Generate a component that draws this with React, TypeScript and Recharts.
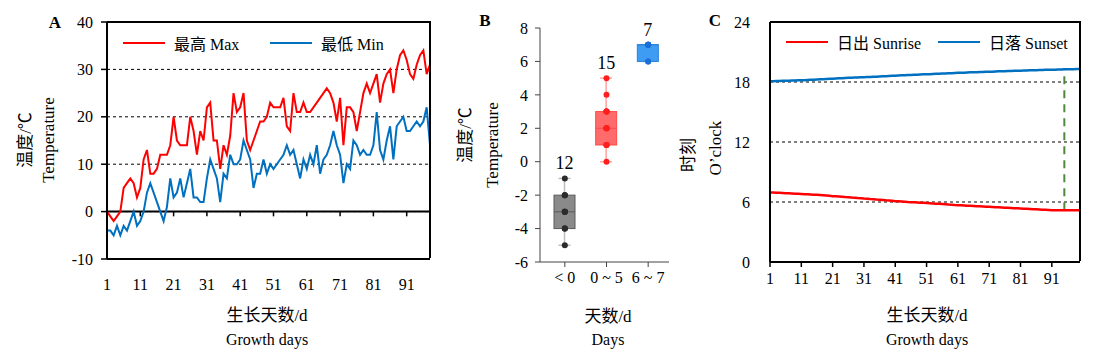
import React from 'react';
import {
  LineChart, Line, XAxis, YAxis, CartesianGrid, ReferenceLine,
  ComposedChart, Bar, Scatter,
} from 'recharts';

const FONT = "'Liberation Serif', 'Times New Roman', 'Noto Sans CJK SC', serif";

// A: daily max / min air temperature over growth days 1..98
const tempMax = [
  0, -1, -2, -1, 0, 5, 6, 7, 6, 3,
  5, 11, 13, 8, 8, 9, 12, 12, 12, 14,
  20, 15, 14, 14, 14, 20, 17, 12, 17, 15,
  22, 23, 15, 15, 9, 14, 12, 16, 25, 21,
  22, 25, 15, 13, 15, 17, 19, 19, 20, 23,
  22, 22, 22, 24, 18, 17, 25, 21, 21, 23,
  21, 21, 22, 23, 24, 25, 26, 25, 23, 19,
  24, 14, 22, 22, 21, 17, 21, 25, 27, 25,
  27, 29, 23, 27, 29, 30, 25, 30, 33, 34,
  32, 29, 28, 31, 33, 34, 29, 31,
];
const tempMin = [
  -4, -4, -5, -3, -5, -3, -4, -2, 0, -3,
  -2, 0, 4, 6, 4, 2, 0, -2, 1, 7,
  3, 4, 7, 3, 6, 9, 3, 3, 2, 2,
  7, 11, 9, 7, 2, 8, 7, 12, 10, 10,
  11, 15, 13, 11, 5, 8, 8, 11, 8, 10,
  9, 10, 11, 12, 14, 12, 13, 10, 7, 11,
  9, 12, 10, 14, 8, 11, 12, 14, 17, 14,
  12, 6, 10, 9, 15, 14, 12, 13, 12, 12,
  14, 21, 13, 11, 15, 18, 11, 18, 19, 20,
  17, 17, 18, 19, 18, 19, 22, 14,
];
const tickDaysA = [1, 11, 21, 31, 41, 51, 61, 71, 81, 91];
const ticksA = [-10, 0, 10, 20, 30, 40];

// B: temperature groups by number of days
const dayGroups = ['< 0', '0 ~ 5', '6 ~ 7'];
const groupCounts = [12, 15, 7];
const groupBox = [[-4, -2], [1, 3], [6, 7]];
const groupWhisker = [[-5, -1], [0, 5], [6, 7]];
const groupMedian = [-3, 2, 7];
const groupPoints = [
  [-1, -2, -2, -2, -3, -3, -3, -3, -4, -4, -4, -5],
  [0, 1, 1, 1, 2, 2, 2, 2, 2, 3, 3, 3, 3, 4, 5],
  [6, 6, 7, 7, 7, 7, 7],
];
const boxFill = ['#8a8a8a', '#ff6b6b', '#3e9cf2'];
const boxStroke = ['#5a5a5a', '#ff4a4a', '#2a80d8'];
const whiskerColor = ['#bdbdbd', '#ffa3a3', '#8cc4f7'];
const pointColor = ['#2b2b2b', '#ff1f1f', '#1a6fd6'];

// C: sunrise / sunset time (hours), growth days 1..100
const sunrise = [
  6.95, 6.95, 6.93, 6.92, 6.90, 6.88, 6.87, 6.85, 6.83, 6.82,
  6.80, 6.78, 6.77, 6.75, 6.73, 6.72, 6.70, 6.68, 6.65, 6.62,
  6.58, 6.57, 6.55, 6.53, 6.50, 6.48, 6.45, 6.43, 6.40, 6.38,
  6.35, 6.33, 6.30, 6.28, 6.25, 6.23, 6.20, 6.17, 6.15, 6.12,
  6.08, 6.07, 6.05, 6.03, 6.00, 5.98, 5.97, 5.95, 5.93, 5.92,
  5.90, 5.88, 5.85, 5.83, 5.82, 5.80, 5.78, 5.75, 5.73, 5.70,
  5.68, 5.67, 5.65, 5.63, 5.62, 5.60, 5.58, 5.57, 5.55, 5.53,
  5.52, 5.50, 5.48, 5.47, 5.45, 5.43, 5.42, 5.40, 5.38, 5.37,
  5.35, 5.33, 5.32, 5.30, 5.28, 5.27, 5.25, 5.23, 5.22, 5.20,
  5.18, 5.18, 5.17, 5.17, 5.17, 5.17, 5.17, 5.17, 5.17, 5.17,
];
const sunset = [
  18.08, 18.08, 18.10, 18.10, 18.12, 18.12, 18.13, 18.15, 18.15, 18.17,
  18.18, 18.18, 18.20, 18.22, 18.23, 18.25, 18.27, 18.28, 18.30, 18.32,
  18.33, 18.35, 18.37, 18.38, 18.40, 18.42, 18.43, 18.45, 18.45, 18.47,
  18.48, 18.50, 18.50, 18.52, 18.53, 18.55, 18.57, 18.58, 18.60, 18.62,
  18.63, 18.65, 18.67, 18.68, 18.70, 18.70, 18.72, 18.73, 18.75, 18.77,
  18.77, 18.78, 18.80, 18.82, 18.83, 18.85, 18.85, 18.87, 18.88, 18.90,
  18.92, 18.92, 18.93, 18.95, 18.97, 18.97, 18.98, 19.00, 19.00, 19.02,
  19.03, 19.03, 19.05, 19.07, 19.07, 19.08, 19.10, 19.10, 19.12, 19.13,
  19.13, 19.15, 19.15, 19.17, 19.17, 19.18, 19.20, 19.20, 19.22, 19.22,
  19.23, 19.23, 19.25, 19.25, 19.27, 19.27, 19.28, 19.28, 19.30, 19.30,
];
const ticksC = [0, 6, 12, 18, 24];
const markDay = 95;

const dataA = tempMax.map((v, i) => ({ day: i + 1, max: v, min: tempMin[i] }));
const dataB = dayGroups.map((g, i) => ({
  cat: g, box: groupBox[i], lo: groupWhisker[i][0], hi: groupWhisker[i][1],
  med: groupMedian[i], n: groupCounts[i], idx: i,
}));
const dataC = sunrise.map((v, i) => ({ day: i + 1, sunrise: v, sunset: sunset[i] }));

const tickStyle = { fill: '#000', fontSize: 16, fontFamily: FONT };
const frameLine = { stroke: '#000', strokeWidth: 2 };

function Txt({ x, y, children, size = 17, bold = false, rotate = false }: any) {
  return (
    <div style={{
      position: 'absolute', left: x, top: y, whiteSpace: 'nowrap',
      transform: `translate(-50%, -50%)${rotate ? ' rotate(-90deg)' : ''}`,
      fontSize: size, fontWeight: bold ? 'bold' : 'normal', fontFamily: FONT, color: '#000', lineHeight: 1,
    }}>{children}</div>
  );
}

function LegendKey({ x, y, color, label }: any) {
  return (
    <div style={{ position: 'absolute', left: x, top: y - 9, display: 'flex', alignItems: 'center', fontFamily: FONT, fontSize: 16, whiteSpace: 'nowrap' }}>
      <span style={{ display: 'inline-block', width: 42, height: 2.5, background: color, marginRight: 9 }} />
      <span>{label}</span>
    </div>
  );
}

// top + right border of a plot area (left/bottom come from the axes)
function Frame({ left, top, right, bottom }: any) {
  return (
    <div style={{
      position: 'absolute', left, top: top - 1, width: right - left + 1, height: bottom - top,
      borderTop: '2px solid #000', borderRight: '2px solid #000', boxSizing: 'border-box', pointerEvents: 'none',
    }} />
  );
}

function BoxShape(props: any) {
  const { x, y, width, height, payload } = props;
  const [q1, q3] = payload.box;
  const i = payload.idx;
  const top = Math.min(y, y + height);
  const h = Math.abs(height);
  const ppu = h / (q3 - q1);
  const cx = x + width / 2;
  const yHi = top - (payload.hi - q3) * ppu;
  const yLo = top + h + (q1 - payload.lo) * ppu;
  const yMed = top + (q3 - payload.med) * ppu;
  return (
    <g>
      <line x1={cx} x2={cx} y1={yHi} y2={yLo} stroke={whiskerColor[i]} strokeWidth={1.5} />
      <line x1={cx - 6} x2={cx + 6} y1={yHi} y2={yHi} stroke={whiskerColor[i]} strokeWidth={1.5} />
      <line x1={cx - 6} x2={cx + 6} y1={yLo} y2={yLo} stroke={whiskerColor[i]} strokeWidth={1.5} />
      <rect x={x} y={top} width={width} height={h} fill={boxFill[i]} stroke={boxStroke[i]} strokeWidth={1} />
      <line x1={x} x2={x + width} y1={yMed} y2={yMed} stroke={boxStroke[i]} strokeWidth={1} />
      <text x={cx} y={yHi - 9} textAnchor="middle" fontSize={18} fontFamily={FONT} fill="#000">{payload.n}</text>
    </g>
  );
}

function PanelA() {
  return (
    <div style={{ position: 'absolute', left: 0, top: 0 }}>
      <LineChart width={440} height={300} data={dataA} margin={{ top: 22, right: 10, left: 0, bottom: 0 }}>
        <CartesianGrid vertical={false} stroke="#000" strokeDasharray="3 3" />
        <XAxis dataKey="day" interval={9} tickLine={false} height={41} tickMargin={14}
          axisLine={frameLine} tick={tickStyle} />
        <YAxis domain={[-10, 40]} ticks={ticksA} interval={0} width={107}
          tickSize={6} tickMargin={8} axisLine={frameLine}
          tickLine={{ stroke: '#000', strokeWidth: 1.5 }} tick={tickStyle} />
        <ReferenceLine y={0} stroke="#000" strokeWidth={2} />
        {tickDaysA.map((d) => (
          <ReferenceLine key={d} segment={[{ x: d, y: 0 }, { x: d, y: -1 }]} stroke="#000" strokeWidth={1.5} />
        ))}
        <Line dataKey="max" stroke="#ff0000" strokeWidth={2} dot={false} isAnimationActive={false} />
        <Line dataKey="min" stroke="#0070c0" strokeWidth={2} dot={false} isAnimationActive={false} />
      </LineChart>
      <Frame left={107} top={22} right={430} bottom={259} />
      <LegendKey x={123} y={40} color="#ff0000" label="最高 Max" />
      <LegendKey x={270} y={40} color="#0070c0" label="最低 Min" />
    </div>
  );
}

function PanelB() {
  return (
    <div style={{ position: 'absolute', left: 440, top: 0 }}>
      <ComposedChart width={240} height={300} data={dataB} margin={{ top: 28, right: 11, left: 0, bottom: 0 }}>
        <XAxis dataKey="cat" allowDuplicatedCategory={false} padding={{ left: 4, right: 0 }} height={38}
          tickSize={5} tickMargin={5} axisLine={{ stroke: '#444' }} tickLine={{ stroke: '#444' }} tick={tickStyle} />
        <YAxis domain={[-6, 8]} ticks={[-6, -4, -2, 0, 2, 4, 6, 8]} interval={0} width={100}
          tickSize={5} tickMargin={7} axisLine={{ stroke: '#444' }} tickLine={{ stroke: '#444' }} tick={tickStyle} />
        <Bar dataKey="box" barSize={21} shape={BoxShape} isAnimationActive={false} />
        {groupPoints.map((pts, i) => (
          <Scatter key={i} data={pts.map((v) => ({ cat: dayGroups[i], v }))} dataKey="v"
            isAnimationActive={false}
            shape={(p: any) => <circle cx={p.cx} cy={p.cy} r={3} fill={pointColor[i]} />} />
        ))}
      </ComposedChart>
    </div>
  );
}

function PanelC() {
  return (
    <div style={{ position: 'absolute', left: 680, top: 0 }}>
      <LineChart width={420} height={300} data={dataC} margin={{ top: 22, right: 20, left: 0, bottom: 0 }}>
        <CartesianGrid vertical={false} stroke="#000" strokeDasharray="3 3" />
        <XAxis dataKey="day" interval={9} height={38} tickSize={5} tickMargin={6}
          axisLine={frameLine} tickLine={{ stroke: '#000', strokeWidth: 1.5 }} tick={tickStyle} />
        <YAxis domain={[0, 24]} ticks={ticksC} interval={0} width={90}
          tickLine={false} tickMargin={14} axisLine={frameLine} tick={tickStyle} />
        <ReferenceLine segment={[{ x: markDay, y: sunrise[markDay - 1] }, { x: markDay, y: sunset[markDay - 1] }]}
          stroke="#4f8a3a" strokeWidth={2} strokeDasharray="8 6" />
        <Line dataKey="sunrise" stroke="#ff0000" strokeWidth={2.5} dot={false} isAnimationActive={false} />
        <Line dataKey="sunset" stroke="#0070c0" strokeWidth={2.5} dot={false} isAnimationActive={false} />
      </LineChart>
      <Frame left={90} top={22} right={400} bottom={262} />
      <LegendKey x={106} y={39} color="#ff0000" label="日出 Sunrise" />
      <LegendKey x={258} y={39} color="#0070c0" label="日落 Sunset" />
    </div>
  );
}

export default function App() {
  return (
    <div style={{ position: 'absolute', left: 0, top: 0, width: 1100, height: 360, background: '#fff', fontFamily: FONT }}>
      <PanelA />
      <PanelB />
      <PanelC />

      <Txt x={55} y={22} bold>A</Txt>
      <Txt x={25} y={140} rotate>温度/℃</Txt>
      <Txt x={48} y={140} rotate>Temperature</Txt>
      <Txt x={267} y={315}>生长天数/d</Txt>
      <Txt x={267} y={340} size={16}>Growth days</Txt>

      <Txt x={485} y={20} bold>B</Txt>
      <Txt x={465} y={135} rotate>温度/℃</Txt>
      <Txt x={492} y={145} rotate>Temperature</Txt>
      <Txt x={608} y={316}>天数/d</Txt>
      <Txt x={608} y={340} size={16}>Days</Txt>

      <Txt x={715} y={20} bold>C</Txt>
      <Txt x={688} y={155} rotate>时刻</Txt>
      <Txt x={715} y={148} rotate>O’clock</Txt>
      <Txt x={927} y={315}>生长天数/d</Txt>
      <Txt x={927} y={340} size={16}>Growth days</Txt>
    </div>
  );
}
